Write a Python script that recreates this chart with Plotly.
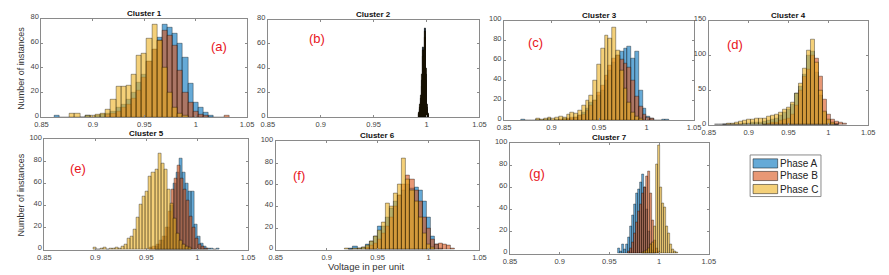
import plotly.graph_objects as go
import numpy as np

# ---------------- data (bin width, first bin centre, counts) ----------------
phases = ["Phase A", "Phase B", "Phase C"]
cluster_titles = ["Cluster 1", "Cluster 2", "Cluster 3", "Cluster 4", "Cluster 5", "Cluster 6", "Cluster 7"]
panel_labels = ["(a)", "(b)", "(c)", "(d)", "(e)", "(f)", "(g)"]
x_tickvals = [0.85, 0.9, 0.95, 1.0, 1.05]
x_ticktext = ["0.85", "0.9", "0.95", "1", "1.05"]
y_ranges = [80, 80, 100, 150, 100, 100, 100]
y_dticks = [20, 20, 20, 50, 20, 20, 20]

bin_width = [0.005, 0.001, 0.004, 0.005, 0.003, 0.004, 0.002]

c1_start = [0.865, 0.915, 0.880]
c1_A = [1, 0, 0, 0, 0, 0, 1, 0, 1, 2, 3, 5, 8, 10, 14, 20, 28, 35, 45, 55, 65, 75, 73, 68, 60, 48, 27, 12, 8, 4, 1]
c1_B = [2, 3, 5, 8, 10, 15, 22, 32, 45, 55, 62, 70, 66, 58, 38, 20, 12, 5, 2, 1, 0, 0, 0, 1]
c1_C = [3, 3, 0, 1, 1, 2, 3, 6, 14, 25, 25, 26, 35, 50, 52, 64, 75, 62, 40, 20, 8, 3, 1]

c2_start = [0.993, 0.993, 0.993]
c2_A = [3, 8, 15, 30, 57, 45, 73, 35, 8, 2]
c2_B = [2, 6, 12, 25, 50, 55, 65, 30, 6, 1]
c2_C = [4, 10, 18, 35, 55, 50, 70, 40, 10, 3]

c3_start = [0.870, 0.910, 0.886]
c3_A = [1, 0, 0, 0, 1, 0, 1, 2, 0, 1, 0, 2, 1, 2, 3, 5, 8, 12, 18, 20, 25, 30, 40, 50, 58, 65, 69, 72, 74, 62, 69, 30, 12, 4, 2, 0, 0, 1, 1]
c3_B = [1, 1, 2, 3, 3, 5, 6, 10, 15, 20, 28, 35, 45, 55, 62, 65, 61, 57, 53, 40, 24, 14, 6, 3, 2]
c3_C = [2, 1, 2, 3, 2, 3, 4, 3, 6, 8, 7, 10, 15, 20, 25, 40, 56, 72, 85, 82, 93, 70, 50, 32, 18, 8, 4, 2]

c4_start = [0.870, 0.920, 0.860]
c4_A = [0, 1, 0, 1, 1, 2, 2, 3, 3, 4, 5, 6, 8, 10, 14, 18, 22, 30, 45, 55, 73, 100, 105, 75, 42, 18, 6, 2, 1]
c4_B = [1, 2, 3, 4, 6, 8, 10, 15, 28, 50, 70, 80, 100, 95, 70, 37, 15, 8, 5, 3, 2]
c4_C = [1, 1, 1, 2, 2, 3, 5, 6, 8, 8, 9, 10, 10, 12, 14, 15, 18, 22, 25, 32, 45, 60, 81, 107, 123, 90, 50, 20, 8, 3, 1]

c5_start = [0.960, 0.955, 0.900]
c5_A = [3, 5, 8, 12, 20, 40, 60, 70, 83, 70, 60, 53, 53, 23, 12, 6, 3, 1, 1, 0, 1]
c5_B = [2, 3, 5, 8, 12, 20, 35, 55, 65, 76, 65, 55, 45, 30, 20, 10, 5, 3, 1]
c5_C = [2, 0, 1, 2, 0, 1, 1, 2, 1, 3, 5, 10, 12, 18, 29, 41, 48, 53, 66, 70, 73, 87, 78, 73, 55, 42, 28, 15, 8, 5, 3, 2]

c6_start = [0.924, 0.940, 0.920]
c6_A = [1, 3, 1, 2, 5, 8, 12, 22, 22, 30, 38, 45, 50, 55, 60, 57, 58, 55, 45, 30, 12, 5, 1]
c6_B = [2, 4, 6, 10, 15, 22, 30, 40, 50, 60, 69, 65, 55, 45, 30, 20, 10, 5, 6, 5, 4, 1]
c6_C = [1, 0, 1, 1, 2, 4, 8, 12, 18, 25, 43, 40, 52, 60, 84, 65, 55, 45, 30, 15, 5, 2]

c7_start = [0.960, 0.970, 0.984]
c7_A = [5, 2, 8, 4, 8, 15, 25, 35, 45, 55, 58, 65, 72, 60, 40, 20, 8, 3, 1]
c7_B = [2, 5, 10, 18, 28, 38, 45, 55, 60, 70, 75, 55, 30, 12, 5, 2]
c7_C = [1, 2, 3, 5, 8, 10, 25, 81, 98, 60, 46, 42, 25, 18, 8, 4, 2, 1]

starts = [c1_start, c2_start, c3_start, c4_start, c5_start, c6_start, c7_start]
counts = [
    [c1_A, c1_B, c1_C], [c2_A, c2_B, c2_C], [c3_A, c3_B, c3_C], [c4_A, c4_B, c4_C],
    [c5_A, c5_B, c5_C], [c6_A, c6_B, c6_C], [c7_A, c7_B, c7_C],
]

# ---------------- style ----------------
W, H = 889, 275
fills = ["rgba(0,114,189,0.6)", "rgba(217,83,25,0.6)", "rgba(237,177,32,0.6)"]
# subplot plot-area boxes in pixels: (left, right, top, bottom)
boxes = [
    (35, 244, 13, 115), (265, 480, 14, 115), (505, 698, 15, 118), (713, 875, 15, 123),
    (38, 245, 138, 252), (273, 480, 140, 252), (511, 713, 142, 256),
]
label_pos = [(215, 42), (315, 34), (537, 38), (740, 40), (72, 168), (297, 175), (538, 173)]
FONT = "Liberation Sans, Arial, sans-serif"

fig = go.Figure()
annotations = []
shapes = []
layout_axes = {}
for k in range(7):
    l, r, t, b = boxes[k]
    xs = "" if k == 0 else str(k + 1)
    xa, ya = "x" + xs, "y" + xs
    for p in range(3):
        cnt = counts[k][p]
        w = bin_width[k]
        centers = np.round(starts[k][p] + w * np.arange(len(cnt)), 5)
        if k == 1:
            line = dict(color="rgba(0,0,0,1)", width=0.8)
        else:
            line = dict(color="rgba(0,0,0,0.6)", width=0.6)
        fig.add_trace(go.Bar(
            x=centers, y=cnt, width=w, name=phases[p],
            marker=dict(color=fills[p], line=line),
            xaxis=xa, yaxis=ya, showlegend=False,
        ))
    axis_common = dict(showline=True, linecolor="#8a8a8a", linewidth=1, mirror="ticks",
                       ticks="inside", ticklen=2, tickcolor="#8a8a8a", showgrid=False,
                       zeroline=False, tickfont=dict(size=7.5, color="#444", family=FONT))
    layout_axes["xaxis" + xs] = dict(domain=[l / W, r / W], anchor=ya, range=[0.85, 1.05],
                                     tickvals=x_tickvals, ticktext=x_ticktext,
                                     ticklabelstandoff=0, **axis_common)
    layout_axes["yaxis" + xs] = dict(domain=[1 - b / H, 1 - t / H], anchor=xa,
                                     range=[0, y_ranges[k]], dtick=y_dticks[k],
                                     ticklabelshift=-2, **axis_common)
    annotations.append(dict(text="<b>" + cluster_titles[k] + "</b>", xref="paper", yref="paper",
                            x=(l + r) / 2 / W, y=1 - t / H, xanchor="center", yanchor="bottom",
                            showarrow=False, borderpad=0,
                            font=dict(size=8, color="#111", family=FONT)))
    lx, ly = label_pos[k]
    annotations.append(dict(text=panel_labels[k], xref="paper", yref="paper", x=lx / W, y=1 - ly / H,
                            xanchor="center", yanchor="middle", showarrow=False,
                            font=dict(size=13, color="#e8141c", family=FONT)))

annotations.append(dict(text="Number of instances", xref="paper", yref="paper", x=14 / W, y=1 - 64 / H,
                        textangle=-90, showarrow=False, xanchor="center", yanchor="middle",
                        font=dict(size=9, color="#333", family=FONT)))
annotations.append(dict(text="Number of instances", xref="paper", yref="paper", x=14 / W, y=1 - 195 / H,
                        textangle=-90, showarrow=False, xanchor="center", yanchor="middle",
                        font=dict(size=9, color="#333", family=FONT)))
annotations.append(dict(text="Voltage in per unit", xref="paper", yref="paper", x=365 / W, y=1 - 269 / H,
                        showarrow=False, xanchor="center", yanchor="middle",
                        font=dict(size=9.5, color="#333", family=FONT)))

# ---- legend box (drawn by hand to match the compact original) ----
leg_box = (755, 827, 154, 197)
shapes.append(dict(type="rect", xref="paper", yref="paper",
                   x0=leg_box[0] / W, x1=leg_box[1] / W, y0=1 - leg_box[3] / H, y1=1 - leg_box[2] / H,
                   line=dict(color="#8a8a8a", width=1), fillcolor="white", layer="below"))
patch_tops = [158, 171, 184.5]
for p in range(3):
    y0 = patch_tops[p]
    shapes.append(dict(type="rect", xref="paper", yref="paper",
                       x0=758 / W, x1=783 / W, y0=1 - (y0 + 9.5) / H, y1=1 - y0 / H,
                       line=dict(color="rgba(0,0,0,0.6)", width=0.8), fillcolor=fills[p]))
    annotations.append(dict(text=phases[p], xref="paper", yref="paper", x=784 / W, y=1 - (y0 + 4.75) / H,
                            xanchor="left", yanchor="middle", showarrow=False, borderpad=0,
                            font=dict(size=10, color="#222", family=FONT)))

fig.update_layout(
    width=W, height=H, autosize=False,
    margin=dict(l=0, r=0, t=0, b=0),
    paper_bgcolor="white", plot_bgcolor="white",
    barmode="overlay", bargap=0,
    annotations=annotations, shapes=shapes,
    showlegend=False,
    **layout_axes,
)
fig.write_html("out.html", config={"displayModeBar": False},
               post_script="document.body.style.margin='0';")
